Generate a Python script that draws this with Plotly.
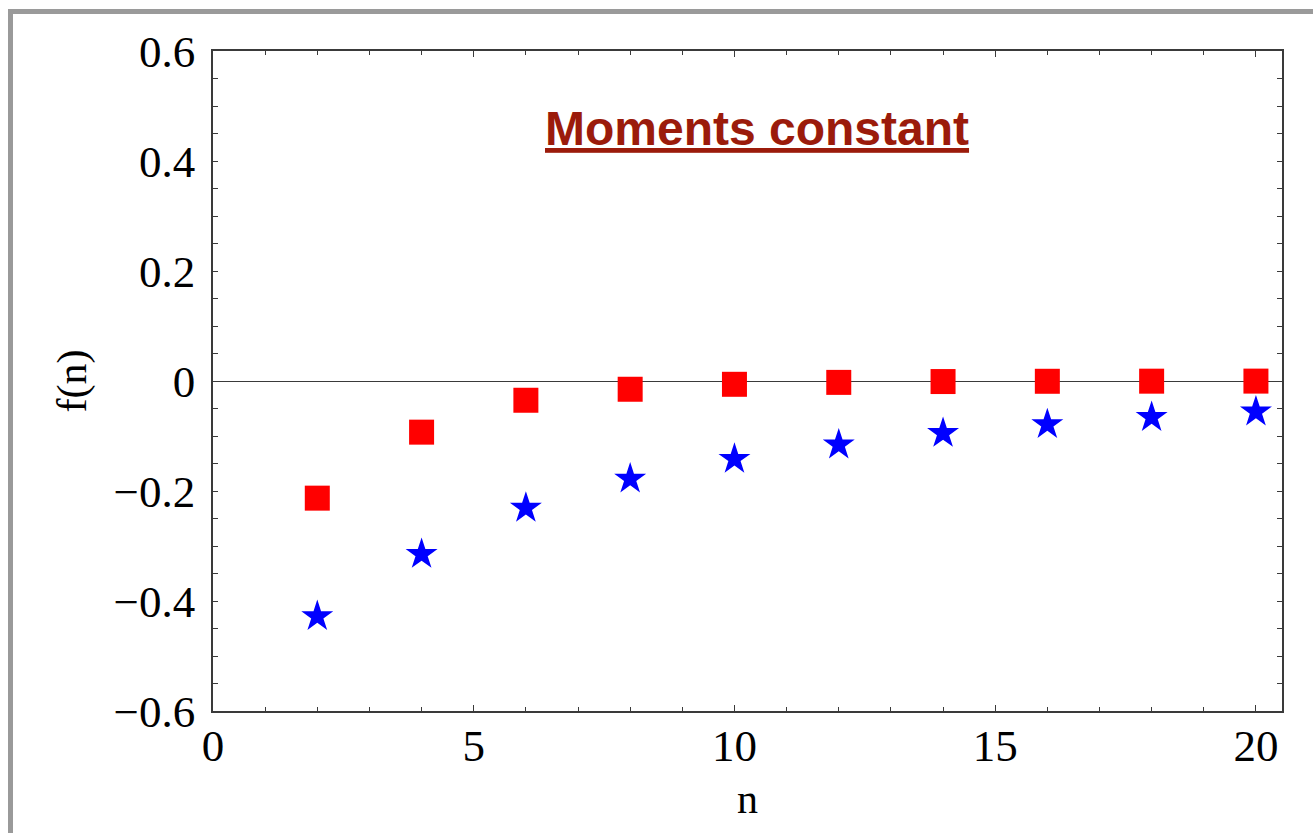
import plotly.graph_objects as go

n_values = [2, 4, 6, 8, 10, 12, 14, 16, 18, 20]
square_values = [-0.213, -0.093, -0.035, -0.015, -0.006, -0.0025, -0.001, -0.0005, -0.0003, -0.0002]
star_values = [-0.428, -0.315, -0.231, -0.178, -0.142, -0.116, -0.095, -0.079, -0.066, -0.056]
title_text = "Moments constant"
x_label = "n"
y_label = "f(n)"

W, H = 1313, 833
L, R, T, B = 213, 31, 51, 122
pw, ph = W - L - R, H - T - B


def px(xp):
    return (xp - L) / pw


def py(yp):
    return (H - B - yp) / ph


fig = go.Figure()
fig.add_trace(go.Scatter(
    x=n_values, y=square_values, mode="markers",
    marker=dict(symbol="square", size=25, color="#ff0000", line=dict(width=0)),
    showlegend=False, cliponaxis=False,
))
fig.add_trace(go.Scatter(
    x=n_values, y=star_values, mode="markers",
    marker=dict(symbol="star", size=24, color="#0000ff", line=dict(width=0)),
    showlegend=False, cliponaxis=False,
))

serif = "Liberation Serif, Times New Roman, serif"
axis_common = dict(
    showline=True, linecolor="#3a3a3a", linewidth=1.5, mirror="allticks",
    ticks="inside", tickcolor="#3a3a3a", showgrid=False,
    tickfont=dict(family=serif, size=45, color="black"),
)

fig.update_xaxes(
    range=[0, 20.5], dtick=5, tick0=0, ticklen=6, tickwidth=1.2,
    minor=dict(dtick=1, ticks="inside", ticklen=4, tickcolor="#3a3a3a", tickwidth=1, showgrid=False),
    zeroline=False, ticklabelstandoff=-6,
    title=dict(text=x_label, font=dict(family=serif, size=42, color="black"), standoff=14),
    **axis_common,
)
fig.update_yaxes(
    range=[-0.6, 0.6], dtick=0.2, tick0=0, ticklen=5, tickwidth=1,
    minor=dict(dtick=0.05, ticks="inside", ticklen=5, tickcolor="#3a3a3a", tickwidth=1, showgrid=False),
    zeroline=True, zerolinecolor="#3a3a3a", zerolinewidth=1.2, ticklabelstandoff=7,
    title=dict(text=y_label, font=dict(family=serif, size=42, color="black"), standoff=14),
    **axis_common,
)

fig.add_annotation(
    x=px(756.5), y=py(128), xref="paper", yref="paper",
    text="<b><u>" + title_text + "</u></b>", showarrow=False,
    xanchor="center", yanchor="middle",
    font=dict(family="Liberation Sans, Arial, sans-serif", size=48, color="#9b1b0b"),
)

# outer gray frame
fig.add_shape(
    type="rect", xref="paper", yref="paper",
    x0=px(10.5), x1=px(1340), y0=py(860), y1=py(11.5),
    line=dict(color="#9a9a9a", width=5), fillcolor="rgba(0,0,0,0)", layer="above",
)

fig.update_layout(
    width=W, height=H,
    margin=dict(l=L, r=R, t=T, b=B),
    paper_bgcolor="white", plot_bgcolor="white",
)

fig.write_html(
    "out.html",
    config={"displayModeBar": False},
    post_script="document.body.style.margin='0';",
)
